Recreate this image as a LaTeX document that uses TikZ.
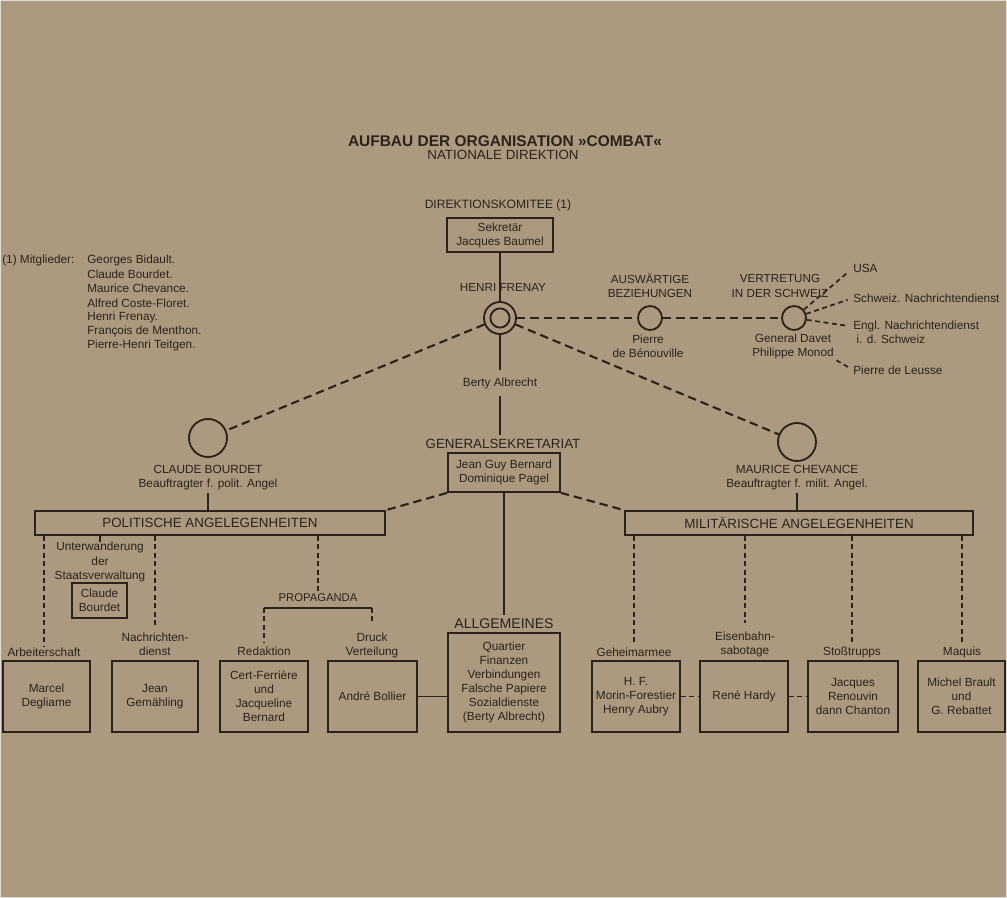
\documentclass[tikz,border=0pt]{standalone}
\usepackage{fontspec}
\setmainfont{Liberation Sans}
\usetikzlibrary{positioning}
\definecolor{paper}{RGB}{172,154,128}
\definecolor{ink}{RGB}{44,34,27}
\tikzset{
  txt/.style={inner sep=0pt,align=center,text=ink,font=\fontsize{8.4}{10}\selectfont},
  head/.style={txt,font=\fontsize{8.3}{10}\selectfont},
  big/.style={txt,font=\fontsize{9.5}{11}\selectfont},
  box/.style={draw=ink,line width=1.2pt,inner sep=0pt,align=center,text=ink,font=\fontsize{8.4}{10}\selectfont},
  lowbox/.style={box,minimum height=1.775cm},
  ring/.style={circle,draw=ink,line width=1.3pt,inner sep=0pt},
  link/.style={draw=ink,line width=1.2pt},
  dlink/.style={draw=ink,line width=1.5pt,dash pattern=on 6pt off 3.5pt},
  vlink/.style={draw=ink,line width=1.2pt,dash pattern=on 3.5pt off 2.5pt}
}
\begin{document}
\begin{tikzpicture}[x=0.025cm,y=-0.025cm]
\useasboundingbox (0,0) rectangle (1007,898);
\fill[paper] (0,0) rectangle (1007,898);
\draw[white!65!paper,line width=1.2pt] (0.5,0.5) rectangle (1006.5,897.5);

% Kopf
\node (title) [txt,font=\bfseries\fontsize{11}{13}\selectfont] at (505,141) {AUFBAU DER ORGANISATION »COMBAT«};
\node (nat) [txt,font=\fontsize{9.5}{11}\selectfont] at (503,155) {NATIONALE DIREKTION};
\node (dk) [txt,font=\fontsize{8.6}{10}\selectfont] at (498,205) {DIREKTIONSKOMITEE (1)};
\node (sek) [box,minimum width=2.65cm,minimum height=0.85cm] at (500,235) {Sekretär\\Jacques Baumel};

% Mitglieder
\node (mit) [txt,anchor=west] at (2,260) {(1) Mitglieder:};
\foreach \n [count=\i from 0] in {Georges Bidault.,Claude Bourdet.,Maurice Chevance.,Alfred Coste-Floret.,Henri Frenay.,François de Menthon.,Pierre-Henri Teitgen.}
  \node (m\i) [txt,anchor=west] at (87,260+14.3*\i) {\n};

% Frenay
\node (fr) [ring,minimum size=0.8cm] at (500,318) {};
\node (fri) [ring,minimum size=0.48cm] at (fr.center) {};
\node (frl) [head] at (503,287) {HENRI FRENAY};
\node (ba) [txt] at (500,383) {Berty Albrecht};
\draw[link] (sek.south) -- (fr.north);
\draw[link,shorten >=5pt] (fr.south) -- (ba.north);

% Generalsekretariat
\node (gsl) [big] at (503,444) {GENERALSEKRETARIAT};
\node (gs) [box,minimum width=2.8cm,minimum height=0.975cm] at (504,472.5) {Jean Guy Bernard\\Dominique Pagel};
\node (agl) [txt,font=\fontsize{10}{12}\selectfont] at (504,624) {ALLGEMEINES};
\node (ag) [box,minimum width=2.8cm,minimum height=2.475cm] at (504,682.5) {Quartier\\Finanzen\\Verbindungen\\Falsche Papiere\\Sozialdienste\\(Berty Albrecht)};
\draw[link,shorten <=5pt,shorten >=3pt] (ba.south) -- (ba.south |- gsl.north);
\draw[link,shorten >=3pt] (gs.south) -- (agl.north);

% Auswaertige Beziehungen, Schweiz
\node (aus) [ring,minimum size=0.6cm] at (650,318) {};
\node (ausl) [head] at (650,286) {AUSWÄRTIGE\\BEZIEHUNGEN};
\node (pb) [txt] at (648,346) {Pierre\\de Bénouville};
\node (ver) [ring,minimum size=0.6cm] at (794,318) {};
\node (verl) [head] at (780,286) {VERTRETUNG\\IN DER SCHWEIZ};
\node (gd) [txt] at (793,346) {General Davet\\Philippe Monod};
\node (usa) [txt,anchor=west] at (853,268) {USA};
\node (snd) [txt,anchor=west] at (853,298) {Schweiz. Nachrichtendienst};
\node (end) [txt,anchor=north west,align=left] at (853,321) {Engl. Nachrichtendienst\\\ i. d. Schweiz};
\node (leu) [txt,anchor=west] at (853,370) {Pierre de Leusse};
\draw[dlink] (fr) -- (aus);
\draw[dlink] (aus) -- (ver);
\draw[vlink,shorten >=4pt] (ver) -- (usa.west);
\draw[vlink,shorten >=4pt] (ver) -- (snd.west);
\draw[vlink,shorten >=4pt] (ver) -- ([yshift=-4pt]end.north west);
\draw[vlink,shorten <=2pt,shorten >=4pt] (gd.south east) -- (leu.west);

% Beauftragte
\node (cbc) [ring,minimum size=0.95cm] at (208,438) {};
\node (cbl) [txt] at (208,478) {CLAUDE BOURDET\\Beauftragter f. polit. Angel};
\node (mcc) [ring,minimum size=0.95cm] at (797,442) {};
\node (mcl) [txt] at (797,478) {MAURICE CHEVANCE\\Beauftragter f. milit. Angel.};
\draw[dlink] (fr) -- (cbc);
\draw[dlink] (fr) -- (mcc);

% Angelegenheiten
\node (pol) [box,minimum width=8.75cm,minimum height=0.6cm,font=\fontsize{9.5}{11}\selectfont] at (210,523) {POLITISCHE ANGELEGENHEITEN};
\node (mil) [box,minimum width=8.7cm,minimum height=0.6cm,font=\fontsize{9.5}{11}\selectfont] at (799,523) {MILITÄRISCHE ANGELEGENHEITEN};
\draw[link,line width=0.8pt,shorten <=2pt] (cbl.south) -- (cbl.south |- pol.north);
\draw[link,line width=0.8pt,shorten <=2pt] (mcl.south) -- (mcl.south |- mil.north);
\draw[dlink] (gs.south west) -- (pol.north east);
\draw[dlink] (gs.south east) -- (mil.north west);

% politisch
\node (unt) [txt] at (100,562) {Unterwanderung\\der\\Staatsverwaltung};
\node (cb) [box,minimum width=1.375cm,minimum height=0.875cm] at (99.5,600.5) {Claude\\Bourdet};
\node (arb) [txt] at (44,652) {Arbeiterschaft};
\node (nd) [txt] at (155,644) {Nachrichten-\\dienst};
\node (md) [lowbox,minimum width=2.175cm] at (46.5,696.5) {Marcel\\Degliame};
\node (jg) [lowbox,minimum width=2.15cm] at (155,696.5) {Jean\\Gemähling};
\draw[link,line width=0.8pt] (unt |- pol.south) -- (unt.north);
\draw[vlink] (arb |- pol.south) -- (arb.north);
\draw[vlink,shorten >=3pt] (nd |- pol.south) -- (nd.north);

\node (prop) [txt,font=\fontsize{8}{10}\selectfont] at (318,598) {PROPAGANDA};
\coordinate (brk) at (318,608);
\node (red) [txt] at (264,651) {Redaktion};
\node (dv) [txt] at (372,645) {Druck\\Verteilung};
\node (cf) [lowbox,minimum width=2.2cm] at (264,696.5) {Cert-Ferrière\\und\\Jacqueline\\Bernard};
\node (ab) [lowbox,minimum width=2.225cm] at (372.5,696.5) {André Bollier};
\draw[vlink,shorten >=2pt] (prop |- pol.south) -- (prop.north);
\draw[link,line width=1pt] (red |- brk) -- (dv |- brk);
\draw[vlink,shorten >=3pt] (red |- brk) -- (red.north);
\draw[vlink,shorten >=6pt] (dv |- brk) -- (dv.north);
\draw[link,line width=0.6pt] (ab.east) -- (ab.east -| ag.west);

% militaerisch
\node (gh) [txt] at (634,652) {Geheimarmee};
\node (eb) [txt] at (745,644) {Eisenbahn-\\sabotage};
\node (sto) [txt] at (852,652) {Stoßtrupps};
\node (maq) [txt] at (962,652) {Maquis};
\node (ga) [lowbox,minimum width=2.2cm] at (636,696.5) {H. F.\\Morin-Forestier\\Henry Aubry};
\node (rh) [lowbox,minimum width=2.2cm] at (744,696.5) {René Hardy};
\node (st) [lowbox,minimum width=2.25cm] at (853,696.5) {Jacques\\Renouvin\\dann Chanton};
\node (mq) [lowbox,minimum width=2.175cm] at (961.5,696.5) {Michel Brault\\und\\G. Rebattet};
\draw[vlink,shorten >=3pt] (gh |- mil.south) -- (gh.north);
\draw[vlink,shorten >=6pt] (eb |- mil.south) -- (eb.north);
\draw[vlink,shorten >=3pt] (sto |- mil.south) -- (sto.north);
\draw[vlink,shorten >=3pt] (maq |- mil.south) -- (maq.north);
\draw[vlink] (ga) -- (rh);
\draw[vlink] (rh) -- (st);
\end{tikzpicture}
\end{document}
